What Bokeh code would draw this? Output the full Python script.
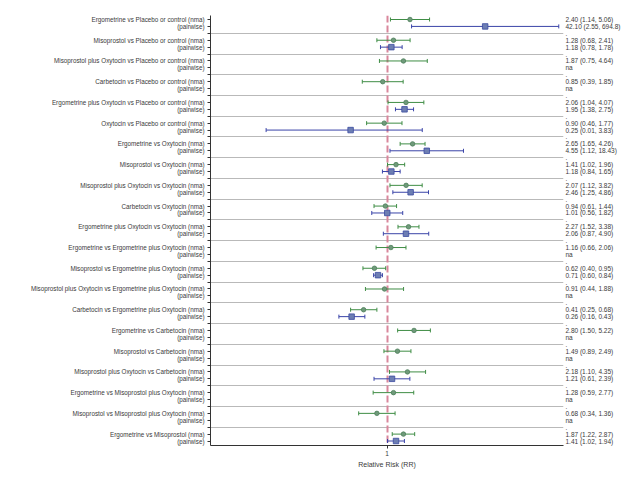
import numpy as np
from bokeh.plotting import figure
from bokeh.models import Range1d, FixedTicker, LinearAxis, ColumnDataSource
from bokeh.embed import file_html
from bokeh.resources import INLINE

comparisons = [
    "Ergometrine vs Placebo or control",
    "Misoprostol vs Placebo or control",
    "Misoprostol plus Oxytocin vs Placebo or control",
    "Carbetocin vs Placebo or control",
    "Ergometrine plus Oxytocin vs Placebo or control",
    "Oxytocin vs Placebo or control",
    "Ergometrine vs Oxytocin",
    "Misoprostol vs Oxytocin",
    "Misoprostol plus Oxytocin vs Oxytocin",
    "Carbetocin vs Oxytocin",
    "Ergometrine plus Oxytocin vs Oxytocin",
    "Ergometrine vs Ergometrine plus Oxytocin",
    "Misoprostol vs Ergometrine plus Oxytocin",
    "Misoprostol plus Oxytocin vs Ergometrine plus Oxytocin",
    "Carbetocin vs Ergometrine plus Oxytocin",
    "Ergometrine vs Carbetocin",
    "Misoprostol vs Carbetocin",
    "Misoprostol plus Oxytocin vs Carbetocin",
    "Ergometrine vs Misoprostol plus Oxytocin",
    "Misoprostol vs Misoprostol plus Oxytocin",
    "Ergometrine vs Misoprostol",
]

nma_rr = [2.40, 1.28, 1.87, 0.85, 2.06, 0.90, 2.65, 1.41, 2.07, 0.94, 2.27,
          1.16, 0.62, 0.91, 0.41, 2.80, 1.49, 2.18, 1.28, 0.68, 1.87]
nma_lo = [1.14, 0.68, 0.75, 0.39, 1.04, 0.46, 1.65, 1.02, 1.12, 0.61, 1.52,
          0.66, 0.40, 0.44, 0.25, 1.50, 0.89, 1.10, 0.59, 0.34, 1.22]
nma_hi = [5.06, 2.41, 4.64, 1.85, 4.07, 1.77, 4.26, 1.96, 3.82, 1.44, 3.38,
          2.06, 0.95, 1.88, 0.68, 5.22, 2.49, 4.35, 2.77, 1.36, 2.87]

na = None
pw_rr = [42.10, 1.18, na, na, 1.95, 0.25, 4.55, 1.18, 2.46, 1.01, 2.06,
         na, 0.71, na, 0.26, na, na, 1.21, na, na, 1.41]
pw_lo = [2.55, 0.78, na, na, 1.38, 0.01, 1.12, 0.84, 1.25, 0.56, 0.87,
         na, 0.60, na, 0.16, na, na, 0.61, na, na, 1.02]
pw_hi = [694.8, 1.78, na, na, 2.75, 3.83, 18.43, 1.65, 4.86, 1.82, 4.90,
         na, 0.84, na, 0.43, na, na, 2.39, na, na, 1.94]

x_label = "Relative Risk (RR)"


def fmt(v):
    return f"{v:.1f}" if v >= 100 else f"{v:.2f}"


def ci_text(rr, lo, hi):
    if rr is None:
        return "na"
    return f"{fmt(rr)} ({fmt(lo)}, {fmt(hi)})"


n = len(comparisons)
nma_y = [3 * k for k in range(n)]
pw_y = [3 * k + 1 for k in range(n)]
blank_y = [3 * k - 1 for k in range(1, n)]

FONT = "Liberation Sans"
TXT = "#3a3a3a"

p = figure(width=630, height=472, x_axis_type="log",
           x_range=Range1d(10 ** -2.92, 10 ** 2.92),
           y_range=Range1d(61.65, -0.58),
           output_backend="svg", toolbar_location=None,
           min_border_left=210, min_border_right=67,
           min_border_top=15, min_border_bottom=27)
p.outline_line_color = None
p.xgrid.visible = False
p.ygrid.visible = False

# separators
p.hspan(y=blank_y, line_color="#b9b9b9", line_width=1)
# reference line
p.vspan(x=[1], line_color="#d9879c", line_width=2, line_dash="7 3")

GREEN = "#3f8d45"
BLUE = "#3a44a8"

nma_src = ColumnDataSource(dict(y=nma_y, rr=nma_rr, lo=nma_lo, hi=nma_hi))
pw_idx = [i for i in range(n) if pw_rr[i] is not None]
pw_src = ColumnDataSource(dict(y=[pw_y[i] for i in pw_idx],
                               rr=[pw_rr[i] for i in pw_idx],
                               lo=[pw_lo[i] for i in pw_idx],
                               hi=[pw_hi[i] for i in pw_idx]))

for src, col, mk, sz, fill, edge in [
        (nma_src, GREEN, "circle", 4.5, "#6f9a7a", "#4d7f5a"),
        (pw_src, BLUE, "square", 5.5, "#6d7eb3", "#3a4aa0")]:
    p.segment(x0="lo", x1="hi", y0="y", y1="y", source=src,
              line_color=col, line_width=1)
    p.scatter(x="lo", y="y", source=src, marker="dash", angle=np.pi / 2,
              size=4, line_color=col, line_width=1)
    p.scatter(x="hi", y="y", source=src, marker="dash", angle=np.pi / 2,
              size=4, line_color=col, line_width=1)
    p.scatter(x="rr", y="y", source=src, marker=mk, size=sz,
              fill_color=fill, line_color=edge, line_width=0.8)

# left axis labels
all_ticks = sorted(nma_y + pw_y + blank_y)
left_labels = {}
for k in range(n):
    left_labels[nma_y[k]] = f"{comparisons[k]} (nma)"
    left_labels[pw_y[k]] = "(pairwise)"
for b in blank_y:
    left_labels[b] = ""

yax = p.yaxis[0]
yax.ticker = FixedTicker(ticks=all_ticks)
yax.major_label_overrides = left_labels
yax.major_label_text_font = FONT
yax.major_label_text_font_size = "6.3px"
yax.major_label_text_color = TXT
yax.major_tick_out = 3
yax.major_tick_in = 0
yax.minor_tick_line_color = None
yax.major_label_standoff = 3
yax.axis_line_color = "#333333"
yax.major_tick_line_color = "#333333"

# right axis with estimates text
right_labels = {}
for k in range(n):
    right_labels[nma_y[k]] = ci_text(nma_rr[k], nma_lo[k], nma_hi[k])
    right_labels[pw_y[k]] = ci_text(pw_rr[k], pw_lo[k], pw_hi[k])
for b in blank_y:
    right_labels[b] = "."
rax = LinearAxis(ticker=FixedTicker(ticks=all_ticks),
                 major_label_overrides=right_labels,
                 axis_line_color=None, major_tick_line_color=None,
                 minor_tick_line_color=None,
                 major_tick_out=0, major_tick_in=0, major_label_standoff=2,
                 major_label_text_font=FONT,
                 major_label_text_font_size="6.5px",
                 major_label_text_color=TXT)
p.add_layout(rax, "right")

xax = p.xaxis[0]
xax.ticker = FixedTicker(ticks=[1])
xax.major_label_overrides = {1: "1"}
xax.minor_tick_line_color = None
xax.major_tick_out = 3
xax.major_tick_in = 0
xax.major_label_standoff = 2
xax.major_label_text_font = FONT
xax.major_label_text_font_size = "6.5px"
xax.major_label_text_color = TXT
xax.axis_label = x_label
xax.axis_label_text_font = FONT
xax.axis_label_text_font_size = "7px"
xax.axis_label_text_font_style = "normal"
xax.axis_label_text_color = TXT
xax.axis_label_standoff = 2
xax.axis_line_color = "#333333"
xax.major_tick_line_color = "#333333"

open("out.html", "w").write(file_html(p, INLINE))
